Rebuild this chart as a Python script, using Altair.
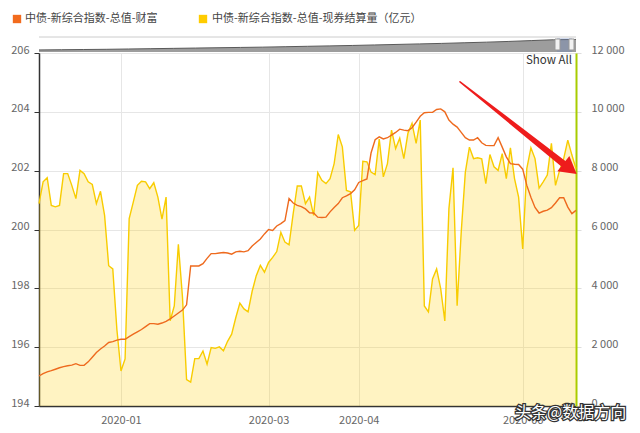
import altair as alt
import pandas as pd

# ---------------- data ----------------
wealth = [
    195.02, 195.10, 195.16, 195.20, 195.25, 195.30, 195.34, 195.37, 195.39, 195.44,
    195.38, 195.38, 195.50, 195.66, 195.82, 195.94, 196.04, 196.16, 196.19, 196.24,
    196.27, 196.27, 196.36, 196.44, 196.52, 196.60, 196.70, 196.80, 196.80, 196.78,
    196.82, 196.88, 196.96, 197.06, 197.16, 197.26, 197.44, 198.76, 198.76, 198.76,
    198.84, 199.02, 199.18, 199.18, 199.20, 199.22, 199.20, 199.16, 199.24, 199.26,
    199.24, 199.28, 199.44, 199.56, 199.68, 199.85, 200.00, 199.97, 200.12, 200.20,
    200.30, 201.05, 200.90, 200.82, 200.78, 200.70, 200.57, 200.56, 200.42, 200.41,
    200.42, 200.60, 200.75, 200.88, 201.08, 201.14, 201.22, 201.35, 201.60, 201.66,
    201.72, 202.60, 203.05, 203.15, 203.08, 203.12, 203.21, 203.30, 203.41, 203.38,
    203.36, 203.46, 203.65, 203.85, 203.97, 203.98, 203.98, 204.08, 204.10, 204.00,
    203.72, 203.58, 203.48, 203.30, 203.12, 203.04, 203.04, 203.12, 202.95, 202.86,
    202.85, 202.85, 203.12, 202.80, 202.47, 202.24, 202.22, 202.21, 202.05, 201.50,
    201.10, 200.75, 200.56, 200.62, 200.66, 200.74, 200.90, 201.08, 201.08, 200.76,
    200.54, 200.65,
]
volume = [
    6880, 7620, 7760, 6820, 6770, 6820, 7900, 7900, 7500, 7050,
    8010, 7900, 7620, 7530, 6880, 7300, 6480, 4770, 4660, 2600,
    1190, 1600, 6370, 6930, 7500, 7640, 7620, 7390, 7590, 7100,
    6350, 7100, 2900, 3400, 5500, 3700, 900, 810, 1610, 1610,
    1870, 1420, 1990, 1960, 2010, 1880, 2200, 2440, 3000, 3500,
    3300, 3200, 3900, 4430, 4780, 4550, 4880, 5050, 5250, 5900,
    5570, 5480, 6530, 7480, 7480, 6880, 7100, 6480, 7930, 7670,
    7560, 7730, 8240, 9230, 8810, 7330, 7280, 5970, 6140, 8320,
    8300, 7950, 7870, 9070, 7790, 8240, 9380, 8750, 9100, 8410,
    9270, 9610, 8930, 9720, 3400, 3200, 4320, 4660, 3980, 2890,
    6710, 8100, 3410, 5910, 7940, 8800, 8410, 8440, 8400, 7560,
    8550, 8130, 8010, 8580, 7730, 8780, 7730, 7100, 5340, 8070,
    8780, 8410, 7410, 7620, 7850, 8930, 7500, 8010, 8410, 9040,
    8530, 8070,
]
nav_level = [100, 102, 104, 106, 109, 112, 115, 118, 121, 124, 127, 131, 135,
             139, 143, 148, 153, 158, 163, 169, 175, 182, 190, 198, 201]

date_ticks = [20, 56, 78, 118]
date_labels = ["2020-01", "2020-03", "2020-04", "2020-06"]
left_ticks = [194, 196, 198, 200, 202, 204, 206]
right_ticks = [0, 2000, 4000, 6000, 8000, 10000, 12000]
series_names = ["中债-新综合指数-总值-财富", "中债-新综合指数-总值-现券结算量（亿元）"]
show_all = ["Show All"]
watermark = ["头条@数据方向"]
arrow_idx = [102.7, 129.0]
arrow_val = [205.02, 202.12]
arrow_width = [1.5, 7.0]

# ---------------- styling ----------------
W, H = 537, 353
FONT = "Noto Sans CJK SC"
ORANGE = "#ee6a1e"
YELLOW = "#f8cc00"
GREEN = "#a8cc00"
RED = "#ee1c1c"

n = len(wealth)
df = pd.DataFrame({"i": list(range(n)), "wealth": wealth, "volume": volume})

xscale = alt.Scale(domain=[0, n - 1], nice=False, zero=False)
label_expr = "".join(f"datum.value == {t} ? '{l}' : " for t, l in zip(date_ticks, date_labels)) + "''"

x_axis = alt.X("i:Q", scale=xscale, title=None,
               axis=alt.Axis(values=date_ticks, labelExpr=label_expr, grid=True,
                             gridColor="#e6e6e6", domainColor="#333333", domainWidth=1.5,
                             ticks=False, labelColor="#666666", labelFont=FONT,
                             labelFontSize=11, labelPadding=8))
x_plain = alt.X("i:Q", scale=xscale, axis=None)

right_expr = "replace(format(datum.value, ','), ',', ' ')"
y_vol_axis = alt.Y("volume:Q", title=None,
                   scale=alt.Scale(domain=[0, 12000], nice=False, zero=True),
                   axis=alt.Axis(orient="right", values=right_ticks, labelExpr=right_expr,
                                 grid=False, domainColor=GREEN, domainWidth=2,
                                 tickColor="#dddddd", tickSize=5, labelPadding=10,
                                 labelColor="#666666", labelFont=FONT, labelFontSize=11,
                                 labelBaseline="alphabetic", labelAlign="left"))
y_vol_plain = alt.Y("volume:Q", scale=alt.Scale(domain=[0, 12000], nice=False, zero=True), axis=None)

y_w_axis = alt.Y("wealth:Q", title=None,
                 scale=alt.Scale(domain=[194, 206], nice=False, zero=False),
                 axis=alt.Axis(orient="left", values=left_ticks, grid=True, gridColor="#e6e6e6",
                               domainColor="#333333", domainWidth=1.5, tickColor="#333333",
                               tickSize=5, labelPadding=5, labelColor="#666666",
                               labelFont=FONT, labelFontSize=11, labelBaseline="alphabetic"))

base = alt.Chart(df)

area = base.mark_area(fill="#ffcc00", fillOpacity=0.24).encode(x=x_axis, y=y_vol_axis)
vol_line = base.mark_line(color=YELLOW, strokeWidth=1.4).encode(x=x_plain, y=y_vol_plain)
w_line = base.mark_line(color=ORANGE, strokeWidth=1.4).encode(x=x_plain, y=y_w_axis)

# navigator strip above the plot
nav_df = pd.DataFrame({"k": list(range(len(nav_level))), "level": nav_level})
nav_y_scale = alt.Scale(domain=[80, 215], range=[-1, -15], nice=False, zero=False)
nav = alt.Chart(nav_df).mark_area(color="#747474", line={"color": "#5a5a5a", "strokeWidth": 1}).encode(
    x=alt.X("k:Q", scale=alt.Scale(domain=[0, len(nav_level) - 1], nice=False, zero=False), axis=None),
    y=alt.Y("level:Q", scale=nav_y_scale, axis=None),
    y2=alt.datum(80),
)
one = pd.DataFrame({"t": show_all})
nav_top = alt.Chart(one).mark_rule(color="#cccccc", strokeWidth=1).encode(
    x=alt.value(0), x2=alt.value(W), y=alt.value(-16))
nav_sel = alt.Chart(one).mark_rect(color="#6685c2", opacity=0.3).encode(
    x=alt.value(518), x2=alt.value(533), y=alt.value(-15), y2=alt.value(-1))
handle1 = alt.Chart(one).mark_rect(fill="#f2f2f2", stroke="#999999", strokeWidth=1).encode(
    x=alt.value(516), x2=alt.value(521), y=alt.value(-14), y2=alt.value(-3))
handle2 = alt.Chart(one).mark_rect(fill="#f2f2f2", stroke="#999999", strokeWidth=1).encode(
    x=alt.value(530), x2=alt.value(535), y=alt.value(-14), y2=alt.value(-3))

showall = alt.Chart(one).mark_text(align="right", baseline="middle", font=FONT, fontSize=11.5,
                                   color="#333333").encode(
    x=alt.value(533), y=alt.value(8), text="t:N")

# red annotation arrow (in data coordinates)
arrow_df = pd.DataFrame({"i": arrow_idx, "v": arrow_val, "w": arrow_width})
arrow_x = alt.X("i:Q", scale=xscale, axis=None)
arrow_y = alt.Y("v:Q", scale=alt.Scale(domain=[194, 206], nice=False, zero=False), axis=None)
arrow = alt.Chart(arrow_df).mark_trail(color=RED).encode(
    x=arrow_x, y=arrow_y, size=alt.Size("w:Q", scale=None, legend=None))
arrow_head = alt.Chart(arrow_df.tail(1)).mark_point(
    shape="triangle", filled=True, size=380, angle=128, color=RED, opacity=1).encode(
    x=arrow_x, y=arrow_y)

# legend
leg1_df = pd.DataFrame({"t": [series_names[0]]})
leg2_df = pd.DataFrame({"t": [series_names[1]]})
leg_sq1 = alt.Chart(leg1_df).mark_square(color="#f26b1d", size=70, opacity=1).encode(
    x=alt.value(-22), y=alt.value(-34))
leg_tx1 = alt.Chart(leg1_df).mark_text(align="left", baseline="middle", font=FONT, fontSize=11,
                                       color="#444444").encode(
    x=alt.value(-14), y=alt.value(-34), text="t:N")
leg_sq2 = alt.Chart(leg2_df).mark_square(color="#ffcc00", size=70, opacity=1).encode(
    x=alt.value(164), y=alt.value(-34))
leg_tx2 = alt.Chart(leg2_df).mark_text(align="left", baseline="middle", font=FONT, fontSize=11,
                                       color="#444444").encode(
    x=alt.value(173), y=alt.value(-34), text="t:N")

# watermark
wm_df = pd.DataFrame({"t": watermark})
wm_back = alt.Chart(wm_df).mark_text(align="left", baseline="middle", font=FONT, fontSize=16,
                                     color="#333333", stroke="#333333", strokeWidth=2.5).encode(
    x=alt.value(476), y=alt.value(360), text="t:N")
wm_front = alt.Chart(wm_df).mark_text(align="left", baseline="middle", font=FONT, fontSize=16,
                                      color="#ffffff").encode(
    x=alt.value(476), y=alt.value(360), text="t:N")

chart = alt.layer(
    area, vol_line, w_line, nav, nav_top, nav_sel, handle1, handle2, showall,
    arrow, arrow_head, leg_sq1, leg_tx1, leg_sq2, leg_tx2, wm_back, wm_front,
).resolve_scale(
    x="independent", y="independent"
).properties(
    width=W, height=H,
    padding={"left": 31, "top": 45, "right": 56, "bottom": 26},
    autosize=alt.AutoSizeParams(type="none"),
    background="#ffffff",
).configure_view(strokeWidth=0)

chart.save("out.html", embed_options={"renderer": "svg", "actions": False})
